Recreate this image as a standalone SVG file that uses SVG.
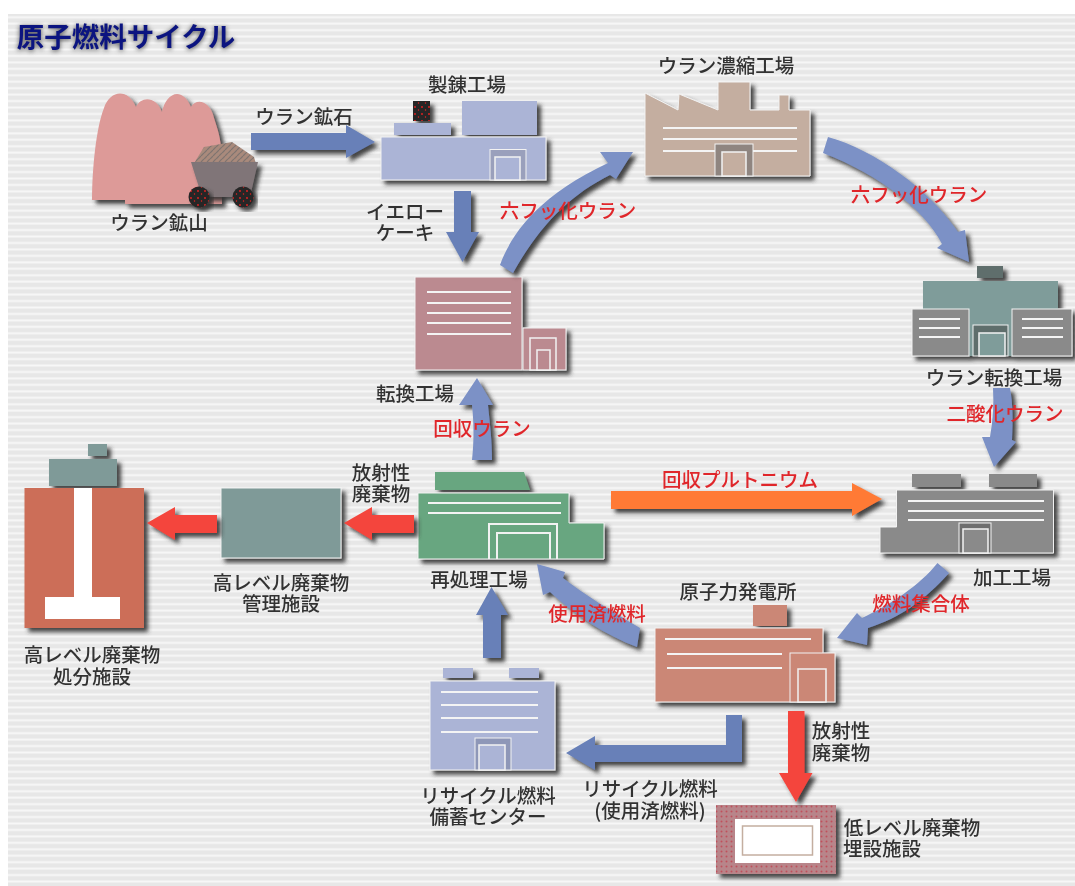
<svg xmlns="http://www.w3.org/2000/svg" width="1075" height="886" viewBox="0 0 1075 886">
<style>
text{font-family:"Noto Sans CJK JP","Noto Sans",sans-serif;font-size:19.5px;font-weight:500;fill:#333;text-anchor:middle;dominant-baseline:central}
.lab{filter:url(#soft)}
.red text,text.red{fill:#e0282c}
.b{stroke:#f2f2f2;stroke-width:1}
.ln{stroke:#f4f4f4;stroke-width:2;fill:none}
.sh{filter:url(#shadow)}
.a1{fill:#6880b8}.a2{fill:#7b91c6}.a3{fill:#f4453c}
.lav{fill:#abb4d6}.tan{fill:#c4aea0}.teal{fill:#7f9a98}.gry{fill:#8a8a8a}.grn{fill:#68a680}.sal{fill:#cb8776}.ros{fill:#bb8a90}
.df{fill:none;stroke:#f2f2f2;stroke-width:2}
</style>
<defs>
<pattern id="stripes" width="6.45" height="6.45" patternUnits="userSpaceOnUse" y="14">
<rect width="6.45" height="6.45" fill="#e7e7e7"/><rect y="2.2" width="6.45" height="2" fill="#f7f7f7"/>
</pattern>
<pattern id="redspeck" width="7" height="7" patternUnits="userSpaceOnUse">
<rect width="7" height="7" fill="#262626"/><circle cx="2" cy="2" r="0.9" fill="#e22"/><circle cx="5.5" cy="5" r="0.7" fill="#e22"/>
</pattern>
<pattern id="ore" width="6" height="6" patternUnits="userSpaceOnUse">
<rect width="6" height="6" fill="#a98a7c"/><path d="M0 3L3 0M3 6L6 3" stroke="#7f7470" stroke-width="1.200"/>
</pattern>
<pattern id="lowdots" width="5" height="5" patternUnits="userSpaceOnUse">
<rect width="5" height="5" fill="#b8858a"/><circle cx="1.500" cy="1.500" r="1" fill="#c0505c"/>
</pattern>
<filter id="shadow" x="-15%" y="-15%" width="135%" height="135%">
<feDropShadow dx="4" dy="4" stdDeviation="1.900" flood-color="#333" flood-opacity="0.9"/>
</filter>
<filter id="soft" x="-5%" y="-20%" width="110%" height="140%"><feGaussianBlur stdDeviation="0.5"/></filter>
</defs>

<rect width="1075" height="886" fill="#fff"/>
<rect x="8" y="14" width="1067" height="872" fill="url(#stripes)"/>

<g id="title">
<text x="126" y="36" style="font-size:27.5px;font-weight:700;fill:#444;filter:blur(2.8px)">原子燃料サイクル</text>
<text x="126" y="34.500" style="font-size:27.5px;font-weight:700;fill:#0b1480;filter:blur(0.6px)">原子燃料サイクル</text>
</g>

<g id="node-mine">
<path class="sh" d="M92,200C92,170 96,128 104,108C110,90 128,88 136,107C141,96 156,96 162,112C165,95 181,84 191,107C196,98 210,100 214,118C218,130 221,140 221,150L222,204L125,204L125,200Z" fill="#dd9a98"/>
<path d="M196,160L204,147L232,142L254,157L256,164L194,164Z" fill="url(#ore)"/>
<path class="sh" d="M191,162L258,162L250,197L202,197Z" fill="#807578"/>
<ellipse class="sh" cx="199" cy="197" rx="10.500" ry="10.500" fill="url(#redspeck)"/>
<ellipse class="sh" cx="243" cy="197" rx="10.500" ry="10.500" fill="url(#redspeck)"/>
<text class="lab" x="159" y="221">ウラン鉱山</text>
</g>

<g id="node-refinery">
<g class="sh">
<rect x="462" y="101" width="75" height="34" class="lav"/>
<rect x="394" y="123" width="57" height="12" class="lav"/>
<rect x="413" y="101" width="17" height="20" fill="url(#redspeck)"/>
<rect x="381" y="137" width="165" height="43" class="lav b"/>
</g>
<rect x="490" y="149.500" width="36" height="30.500" fill="#9aa0bc" stroke="#f2f2f2" stroke-width="1"/>
<rect x="495" y="157" width="25" height="23" class="lav" stroke="#f2f2f2" stroke-width="1.500"/>
<text class="lab" x="467" y="83">製錬工場</text>
</g>

<g id="node-enrichment">
<path class="sh b tan" d="M645,93L678,110L679,94L718,110L718,82L750,82L750,110L779,110L779,95L789,95L789,110L810,110L810,176L645,176Z"/>
<path class="ln" d="M663,128H797M663,139H797M663,151H797"/>
<rect x="715" y="144" width="38" height="32" fill="#8f8580" stroke="#f2f2f2"/>
<rect x="722" y="152" width="24" height="24" class="tan" stroke="#f2f2f2" stroke-width="1.500"/>
<text class="lab" x="726" y="64">ウラン濃縮工場</text>
</g>

<g id="node-conversion-uranium">
<g class="sh">
<rect x="977" y="266" width="26" height="12" fill="#5f6e6c"/>
<rect x="923" y="281" width="135" height="28" fill="#7f9c9a"/>
<rect x="969" y="300" width="43" height="56" fill="#7f9c9a"/>
<rect x="912" y="309" width="57" height="47" class="gry b"/>
<rect x="1012" y="309" width="60" height="47" class="gry b"/>
</g>
<path class="ln" d="M919,319H960M919,328H960M919,337H960M1022,319H1063M1022,328H1063M1022,337H1063"/>
<rect x="973" y="325" width="35" height="31" fill="#5f6e6c" stroke="#f2f2f2"/>
<rect x="979" y="333" width="26" height="23" fill="#7f9c9a" stroke="#f2f2f2" stroke-width="1.500"/>
<text class="lab" x="994" y="376">ウラン転換工場</text>
</g>

<g id="node-conversion">
<g class="sh">
<rect x="415" y="277" width="107" height="93" class="ros b"/>
<rect x="523" y="328" width="43" height="42" class="ros b"/>
</g>
<path class="ln" d="M427,292H511M427,303H511M427,313H511M427,323H511M427,334H511"/>
<rect x="530" y="338" width="26" height="32" class="ros" stroke="#f2f2f2" stroke-width="1.500"/>
<rect x="537" y="350" width="13" height="20" class="ros" stroke="#f2f2f2" stroke-width="1.500"/>
<text class="lab" x="415" y="392">転換工場</text>
</g>

<g id="node-disposal">
<g class="sh">
<rect x="88" y="444" width="19" height="12" class="teal"/>
<rect x="49" y="459" width="68" height="27" class="teal"/>
<rect x="24.500" y="488" width="119.500" height="140" fill="#cc6e58"/>
</g>
<path d="M74,488H92V597H120V619H45V597H74Z" fill="#fff"/>
<text class="lab" x="92" y="653">高レベル廃棄物</text>
<text class="lab" x="92" y="675">処分施設</text>
</g>

<g id="node-storage">
<rect class="sh b teal" x="221" y="488" width="120" height="70"/>
<text class="lab" x="281" y="581">高レベル廃棄物</text>
<text class="lab" x="281" y="602">管理施設</text>
</g>

<g id="node-reprocessing">
<g class="sh">
<path class="grn" d="M435,472H524L530,490H435Z"/>
<path class="grn b" d="M418,493H569V523H604V559H418Z"/>
</g>
<path class="ln" d="M428,503H561M428,513H561"/>
<path d="M489,559V524H557V559" class="df"/>
<path d="M497,559V533H550V559" class="df"/>
<text class="lab" x="479" y="578">再処理工場</text>
</g>

<g id="node-fabrication">
<g class="sh">
<rect x="912" y="474" width="49" height="13" class="gry"/>
<rect x="989" y="474" width="48" height="13" class="gry"/>
<path class="gry b" d="M896.500,490H1053.500V553H880V527H896.500Z"/>
</g>
<path class="ln" d="M908,501H1044M908,511H1044M908,520H1044"/>
<rect x="959" y="523" width="32" height="30" fill="#6e6e6e" stroke="#f2f2f2"/>
<rect x="963" y="529" width="25" height="24" class="gry" stroke="#f2f2f2" stroke-width="1.500"/>
<text class="lab" x="1012" y="576">加工工場</text>
</g>

<g id="node-plant">
<g class="sh">
<rect x="753" y="605" width="34" height="21" class="sal"/>
<rect x="655" y="628" width="168" height="74" class="sal b"/>
<rect x="790" y="653" width="45" height="49" class="sal b"/>
</g>
<path class="ln" d="M665,639H811M667,654H782M667,668H782"/>
<rect x="798" y="669" width="28" height="33" class="sal" stroke="#f2f2f2" stroke-width="1.500"/>
<text class="lab" x="738" y="590">原子力発電所</text>
</g>

<g id="node-recycle">
<g class="sh">
<rect x="443" y="668" width="30" height="10" class="lav"/>
<rect x="509" y="668" width="30" height="10" class="lav"/>
<rect x="430" y="681" width="125" height="89" class="lav b"/>
</g>
<path class="ln" d="M441,692H538M441,705H538M441,718H538M441,732H538"/>
<rect x="475" y="738" width="36" height="32" fill="#8e97b8" stroke="#f2f2f2"/>
<rect x="479" y="745" width="26" height="25" class="lav" stroke="#f2f2f2" stroke-width="1.500"/>
<text class="lab" x="488" y="794">リサイクル燃料</text>
<text class="lab" x="488" y="815">備蓄センター</text>
</g>

<g id="node-lowlevel">
<rect class="sh" x="716" y="805" width="120" height="69" fill="url(#lowdots)"/>
<rect x="735" y="819" width="85" height="44" fill="#fff"/>
<rect x="742.500" y="826" width="70" height="29" fill="#fff" stroke="#c4aea0" stroke-width="1.500"/>
<text class="lab" x="912" y="826">低レベル廃棄物</text>
<text class="lab" x="882" y="847">埋設施設</text>
</g>

<g id="connectors">
<path class="sh a1" d="M251,133H346V125L375,142L346,158V150H251Z"/>
<path class="sh a1" d="M454,191H471V232H479L462.500,262L446,232H454Z"/>
<path class="sh a2" d="M500,265C512,232 540,195 608,163L600,152H633L616,179L610,175C570,195 540,225 513,273Z"/>
<path class="sh a2" d="M828,137C875,150 930,190 958,232L965,230L969,262L937,248L942,244C925,210 880,175 823,153Z"/>
<path class="sh a2" d="M993,388H1010C1013,405 1013,420 1012,440L1016,442L994,467L982,437L990,437C993,420 994,405 993,388Z"/>
<path class="sh a2" d="M949,573C925,600 900,618 868,628L867,645L837,638L857,613L862,618C890,605 920,585 937.500,563Z"/>
<path class="sh a2" d="M640,628C610,610 585,595 563,578L565,572L537,564L543,595L550,592C575,615 605,635 637,647Z"/>
<path class="sh a2" d="M472,460C474,440 474,425 472,405H459L477,378L493,405H488C490,425 492,440 492,460Z"/>
<path class="sh a1" d="M483,658V615H476L491.500,587L508,615H501V658Z"/>
<path class="sh a1" d="M726,715H742V762H595V770L566,753L595,736V745H726Z"/>
<path class="sh" fill="#ff7a35" d="M611,491H852V483L882,499L852,516V509H611Z"/>
<path class="sh a3" d="M414,515V533H372V540L344,523L372,507V515Z"/>
<path class="sh a3" d="M217,515V533H175V540L147,523L175,507V515Z"/>
<path class="sh a3" d="M788,711H804.500V773H812.500L796,802L779,773H788Z"/>
<g class="lab">
<text x="304" y="115">ウラン鉱石</text>
<text x="405" y="210">イエロー</text>
<text x="405" y="231">ケーキ</text>
<text x="381" y="471">放射性</text>
<text x="381" y="492">廃棄物</text>
<text x="841" y="729">放射性</text>
<text x="841" y="751">廃棄物</text>
<text x="650" y="787">リサイクル燃料</text>
<text x="650" y="809">(使用済燃料)</text>
<text class="red" x="568" y="209">六フッ化ウラン</text>
<text class="red" x="919" y="193">六フッ化ウラン</text>
<text class="red" x="1005" y="412">二酸化ウラン</text>
<text class="red" x="482" y="427">回収ウラン</text>
<text class="red" x="740" y="478">回収プルトニウム</text>
<text class="red" x="921" y="602">燃料集合体</text>
<text class="red" x="597" y="612">使用済燃料</text>
</g>
</g>
</svg>
